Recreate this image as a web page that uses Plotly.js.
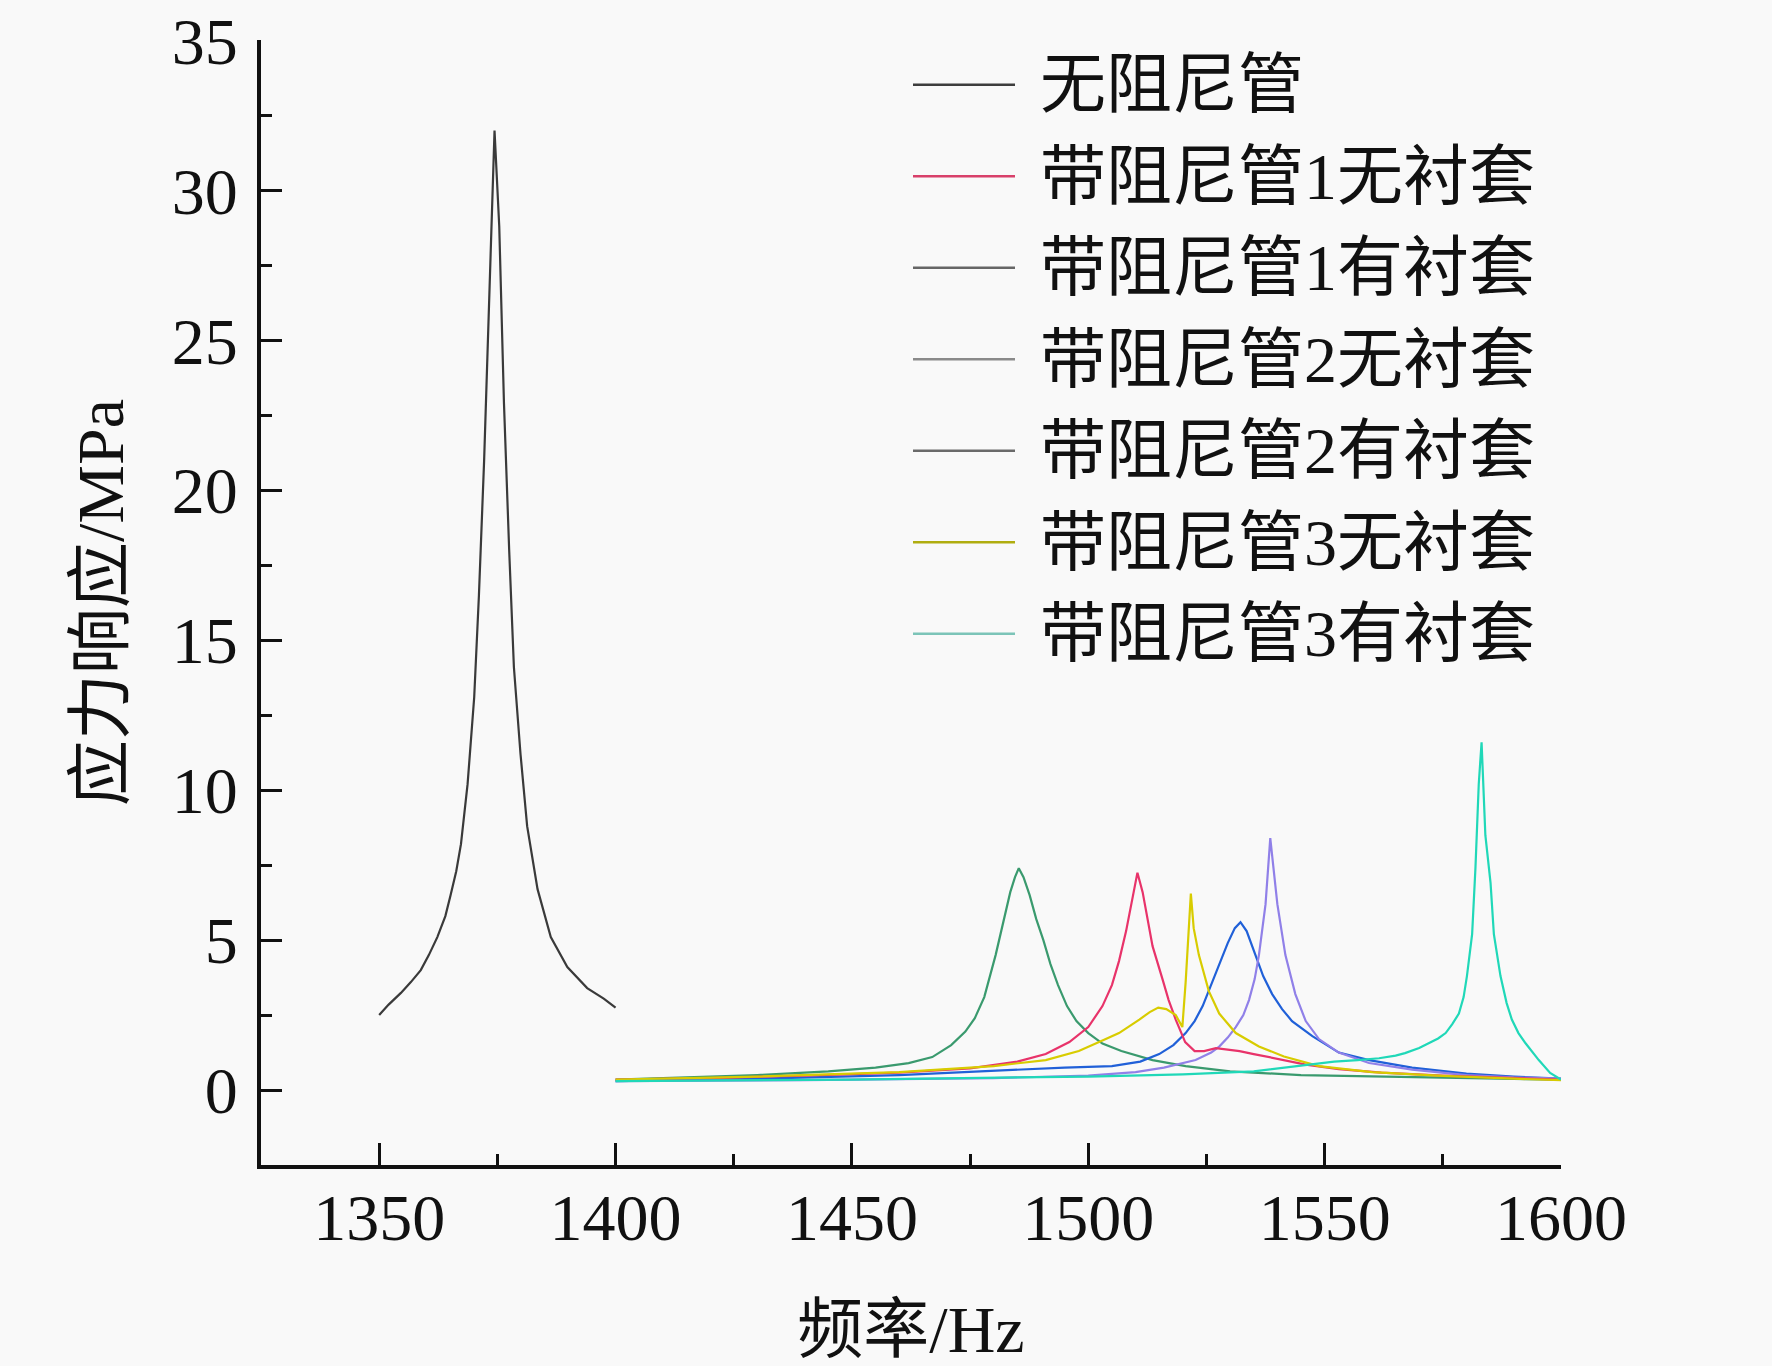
<!DOCTYPE html>
<html>
<head>
<meta charset="utf-8">
<script src="https://cdn.plot.ly/plotly-3.0.1.min.js"></script>
<style>
  html, body { margin: 0; padding: 0; background: #f9f9f9; }
  #chart { width: 1772px; height: 1366px; }
</style>
</head>
<body>
<div id="chart"></div>
<script>
// ---- data ----
const seriesNames = ["无阻尼管", "带阻尼管1无衬套", "带阻尼管1有衬套", "带阻尼管2无衬套", "带阻尼管2有衬套", "带阻尼管3无衬套", "带阻尼管3有衬套"];

// 无阻尼管
const freqNone = [1350, 1352, 1354.6, 1356.7, 1358.8, 1360.5, 1362.3, 1364, 1365.1, 1366.3, 1367.3, 1368.7, 1370.1, 1371.1, 1372.2, 1373.2, 1373.9, 1374.4, 1375.4, 1376.4, 1377.5, 1378.5, 1379.9, 1381.3, 1383.5, 1386.3, 1389.8, 1394, 1397.5, 1400];
const stressNone = [2.5, 2.85, 3.24, 3.6, 4.0, 4.5, 5.1, 5.8, 6.5, 7.3, 8.2, 10.2, 13.1, 16.5, 21.0, 25.9, 29.8, 32.0, 28.8, 22.9, 18.0, 14.1, 11.2, 8.8, 6.7, 5.1, 4.1, 3.4, 3.05, 2.75];

// 带阻尼管1无衬套
const freqT1No = [1400, 1420, 1440, 1460, 1475, 1485, 1491, 1496, 1500, 1503, 1505, 1506.5, 1508, 1509.3, 1510.4, 1511.5, 1512.6, 1513.6, 1515.7, 1517, 1518.5, 1520.5, 1522.5, 1524.5, 1527, 1529.5, 1532, 1535, 1538, 1541, 1546, 1553, 1562, 1575, 1588, 1600];
const stressT1No = [0.35, 0.4, 0.48, 0.58, 0.72, 0.95, 1.2, 1.6, 2.1, 2.8, 3.5, 4.3, 5.3, 6.3, 7.25, 6.6, 5.6, 4.8, 3.7, 3.0, 2.35, 1.6, 1.3, 1.3, 1.4, 1.35, 1.3, 1.2, 1.1, 1.0, 0.85, 0.7, 0.58, 0.48, 0.4, 0.35];

// 带阻尼管1有衬套
const freqT1Yes = [1400, 1415, 1430, 1445, 1455, 1462, 1467, 1471, 1474, 1476, 1478, 1480.4, 1482, 1483.5, 1484.5, 1485.3, 1486.3, 1487.6, 1489, 1490.5, 1492, 1493.6, 1495.5, 1497.5, 1500, 1503, 1507, 1513.6, 1520.6, 1530, 1545, 1560, 1575, 1590, 1600];
const stressT1Yes = [0.35, 0.42, 0.5, 0.62, 0.75, 0.9, 1.1, 1.5, 1.95, 2.4, 3.1, 4.5, 5.6, 6.6, 7.1, 7.4, 7.1, 6.5, 5.7, 5.0, 4.2, 3.5, 2.8, 2.3, 1.9, 1.55, 1.3, 1.0, 0.8, 0.62, 0.5, 0.45, 0.4, 0.37, 0.35];

// 带阻尼管2无衬套
const freqT2No = [1400, 1430, 1460, 1480, 1495, 1505, 1511, 1515, 1518, 1520.6, 1522.5, 1524.2, 1526, 1527.7, 1529.5, 1531, 1532.2, 1533.5, 1535.4, 1537, 1538.9, 1541, 1543.1, 1547.4, 1553, 1559.4, 1568.5, 1580, 1590, 1600];
const stressT2No = [0.3, 0.38, 0.5, 0.65, 0.75, 0.8, 0.95, 1.2, 1.5, 1.9, 2.3, 2.8, 3.5, 4.2, 4.9, 5.4, 5.6, 5.3, 4.5, 3.8, 3.2, 2.7, 2.3, 1.8, 1.25, 1.0, 0.75, 0.55, 0.45, 0.38];

// 带阻尼管2有衬套
const freqT2Yes = [1400, 1440, 1480, 1500, 1510, 1516, 1522.7, 1526, 1527.7, 1529.5, 1531.2, 1532.8, 1534, 1535.2, 1536.1, 1537.5, 1538.5, 1539.3, 1540, 1541.7, 1543.8, 1546, 1548.8, 1553, 1559.4, 1568.5, 1580, 1590, 1600];
const stressT2Yes = [0.3, 0.33, 0.4, 0.48, 0.6, 0.75, 1.0, 1.25, 1.45, 1.75, 2.1, 2.5, 3.0, 3.7, 4.5, 6.2, 8.4, 7.3, 6.2, 4.5, 3.2, 2.3, 1.7, 1.25, 0.9, 0.68, 0.5, 0.42, 0.38];

// 带阻尼管3无衬套
const freqT3No = [1400, 1430, 1460, 1480, 1491, 1498, 1503, 1506.5, 1510.8, 1513, 1514.8, 1516.5, 1518.5, 1519.9, 1520.6, 1521.2, 1521.7, 1522.3, 1523.4, 1525.5, 1527.7, 1531.2, 1536.1, 1541.4, 1548.8, 1560, 1575, 1590, 1600];
const stressT3No = [0.35, 0.45, 0.6, 0.8, 1.0, 1.3, 1.65, 1.9, 2.35, 2.6, 2.75, 2.7, 2.5, 2.1, 3.6, 5.3, 6.55, 5.4, 4.5, 3.3, 2.55, 1.9, 1.45, 1.12, 0.8, 0.6, 0.47, 0.38, 0.33];

// 带阻尼管3有衬套
const freqT3Yes = [1400, 1450, 1500, 1520, 1535, 1545, 1552, 1557, 1561.5, 1565, 1567, 1570, 1572, 1574, 1575.6, 1577, 1578.4, 1579.4, 1580.1, 1581.2, 1581.9, 1582.6, 1583.2, 1584, 1585.1, 1585.8, 1587.2, 1588.5, 1589.6, 1591, 1592.5, 1595.3, 1597.7, 1600];
const stressT3Yes = [0.3, 0.35, 0.45, 0.52, 0.62, 0.8, 0.95, 1.0, 1.06, 1.15, 1.23, 1.4, 1.56, 1.72, 1.9, 2.2, 2.55, 3.1, 3.8, 5.2, 7.4, 10.2, 11.6, 8.5, 6.9, 5.2, 3.8, 2.9, 2.35, 1.9, 1.56, 1.0, 0.57, 0.35];

const xTickVals = [1350, 1400, 1450, 1500, 1550, 1600];
const yTickVals = [0, 5, 10, 15, 20, 25, 30, 35];

// ---- styling ----
const lineColors = ["#3a3a3a", "#e8336a", "#3a9a6e", "#2060d8", "#9080e8", "#d8cc00", "#20d8b8"];
const legendColors = ["#3d3d3d", "#d8406a", "#666666", "#8a8a8a", "#6a6a6a", "#b0ad10", "#7cc4b8"];
const serif = "'Liberation Serif', 'Times New Roman', 'Noto Sans CJK SC', serif";

const xs = [freqNone, freqT1No, freqT1Yes, freqT2No, freqT2Yes, freqT3No, freqT3Yes];
const ys = [stressNone, stressT1No, stressT1Yes, stressT2No, stressT2Yes, stressT3No, stressT3Yes];

// draw order: green/blue/purple/red/yellow under, cyan & black on top
const order = [2, 3, 4, 1, 5, 6, 0];
const traces = order.map(i => ({
  type: "scatter",
  mode: "lines",
  name: seriesNames[i],
  x: xs[i],
  y: ys[i],
  line: { color: lineColors[i], width: 2.2 },
  showlegend: false,
  hoverinfo: "skip"
}));

// plot area in pixels (figure 1772 x 1366)
const W = 1772, H = 1366;
const L = 261, R = 1561, T = 40, B = 1165;
const plotH = B - T, plotW = R - L;

// legend drawn with paper-referenced shapes/annotations
const legFirstRow = 84.7, legStep = 91.5;
const legLineX0 = 913, legLineX1 = 1015, legTextX = 1038;
const shapes = [], annotations = [];
seriesNames.forEach((nm, k) => {
  const py = legFirstRow + k * legStep;
  const yp = (B - py) / plotH;
  shapes.push({
    type: "line", xref: "paper", yref: "paper",
    x0: (legLineX0 - L) / plotW, x1: (legLineX1 - L) / plotW, y0: yp, y1: yp,
    line: { color: legendColors[k], width: 2.5 }
  });
  annotations.push({
    xref: "paper", yref: "paper", x: (legTextX - L) / plotW, y: yp,
    xanchor: "left", yanchor: "middle", showarrow: false,
    text: nm, font: { family: serif, size: 66, color: "#111111" }
  });
});

const layout = {
  width: W, height: H, autosize: false,
  paper_bgcolor: "#f9f9f9", plot_bgcolor: "#f9f9f9",
  margin: { l: L, r: W - R, t: T, b: H - B, pad: 0 },
  showlegend: false,
  font: { family: serif, size: 64, color: "#111111" },
  xaxis: {
    range: [1325, 1600],
    tickvals: xTickVals,
    ticktext: xTickVals.map(String),
    ticks: "inside", ticklen: 22, tickwidth: 3, tickcolor: "#111111",
    minor: { dtick: 25, tick0: 1325, ticks: "inside", ticklen: 11, tickwidth: 3, tickcolor: "#111111" },
    showline: true, linecolor: "#111111", linewidth: 4,
    showgrid: false, zeroline: false,
    ticklabelstandoff: -8,
    ticklabeloverflow: "allow",
    tickfont: { family: serif, size: 66, color: "#111111" },
    title: { text: "频率/Hz", font: { family: serif, size: 66, color: "#111111" }, standoff: 58 }
  },
  yaxis: {
    range: [-2.5, 35.02],
    tickvals: yTickVals,
    ticktext: yTickVals.map(String),
    ticks: "inside", ticklen: 21, tickwidth: 3, tickcolor: "#111111",
    minor: { dtick: 2.5, tick0: 0, ticks: "inside", ticklen: 11, tickwidth: 3, tickcolor: "#111111" },
    showline: true, linecolor: "#111111", linewidth: 4,
    showgrid: false, zeroline: false,
    ticklabelstandoff: 6,
    ticklabeloverflow: "allow",
    tickfont: { family: serif, size: 66, color: "#111111" },
    title: { text: "应力响应/MPa", font: { family: serif, size: 66, color: "#111111" }, standoff: 28 }
  },
  shapes: shapes,
  annotations: annotations
};

Plotly.newPlot("chart", traces, layout, { staticPlot: true, displayModeBar: false });
</script>
</body>
</html>
